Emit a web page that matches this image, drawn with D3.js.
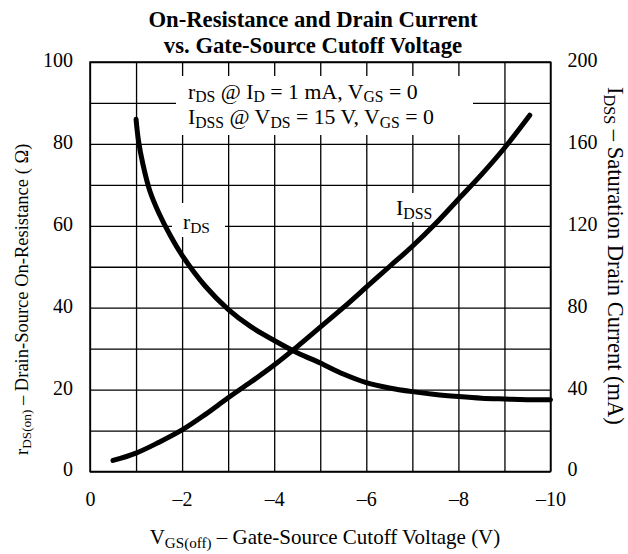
<!DOCTYPE html>
<html>
<head>
<meta charset="utf-8">
<script src="https://cdn.jsdelivr.net/npm/d3@7"></script>
<style>
  html, body { margin: 0; padding: 0; background: #fff; }
  svg { display: block; }
  text { font-family: "Liberation Serif", "Times New Roman", serif; fill: #000; }
</style>
</head>
<body>
<svg id="chart" width="628" height="554"></svg>
<script>
// ---- data ----
const rdsVgs  = [-1, -1.05, -1.15, -1.3, -1.5, -1.75, -2, -2.5, -3, -3.5, -4, -4.5, -5, -5.5, -6, -6.5, -7, -7.5, -8, -8.5, -9, -9.5, -10];
const rdsOhm  = [86, 81, 75, 68.5, 63, 57.5, 52.8, 45.3, 39.6, 35.3, 32, 29, 26.5, 23.8, 21.7, 20.4, 19.5, 18.8, 18.3, 17.9, 17.7, 17.55, 17.5];
const idssVgs = [-0.5, -1, -1.5, -2, -2.5, -3, -3.5, -4, -4.5, -5, -5.5, -6, -6.5, -7, -7.5, -8, -8.5, -9, -9.55];
const idssMa  = [5.4, 9, 14.3, 20.3, 27.8, 36, 43.8, 52, 61, 70.5, 80, 90, 100, 110, 121, 133, 145, 158, 174];
const xTicks      = [0, -2, -4, -6, -8, -10];
const yLeftTicks  = [0, 20, 40, 60, 80, 100];
const yRightTicks = [0, 40, 80, 120, 160, 200];

// ---- layout ----
const svg = d3.select("#chart");
const L = 90, R = 550.5, T = 62, B = 471.5;
const x  = d3.scaleLinear().domain([0, -10]).range([L, R]);
const yL = d3.scaleLinear().domain([0, 100]).range([B, T]);
const yR = d3.scaleLinear().domain([0, 200]).range([B, T]);
const FS = 20;

// grid
const gx = svg.append("g").attr("transform", `translate(0,${B})`)
  .call(d3.axisBottom(x).ticks(10).tickSize(-(B - T)).tickFormat(""));
const gy = svg.append("g").attr("transform", `translate(${L},0)`)
  .call(d3.axisLeft(yL).ticks(10).tickSize(-(R - L)).tickFormat(""));
[gx, gy].forEach(g => {
  g.select(".domain").remove();
  g.selectAll("line").attr("stroke", "#000").attr("stroke-width", 1.3);
});

// white boxes behind in-plot labels
svg.append("rect").attr("x", 176).attr("y", 76).attr("width", 297).attr("height", 59).attr("fill", "#fff");
svg.append("rect").attr("x", 172).attr("y", 203).attr("width", 53).attr("height", 34).attr("fill", "#fff");
svg.append("rect").attr("x", 392).attr("y", 193).attr("width", 44).attr("height", 29).attr("fill", "#fff");

// frame
svg.append("rect").attr("x", L).attr("y", T).attr("width", R - L).attr("height", B - T)
  .attr("fill", "none").attr("stroke", "#000").attr("stroke-width", 1.5);

// curves
const lineR = d3.line().x(d => x(d[0])).y(d => yL(d[1])).curve(d3.curveCatmullRom.alpha(0.5));
const lineI = d3.line().x(d => x(d[0])).y(d => yR(d[1])).curve(d3.curveCatmullRom.alpha(0.5));
svg.append("path").datum(rdsVgs.map((v, i) => [v, rdsOhm[i]])).attr("d", lineR)
  .attr("fill", "none").attr("stroke", "#000").attr("stroke-width", 5).attr("stroke-linecap", "round");
svg.append("path").datum(idssVgs.map((v, i) => [v, idssMa[i]])).attr("d", lineI)
  .attr("fill", "none").attr("stroke", "#000").attr("stroke-width", 5).attr("stroke-linecap", "round");

// axes labels
function styleAxis(g) {
  g.select(".domain").remove();
  g.selectAll("line").remove();
  g.attr("font-family", null).attr("font-size", null);
  g.selectAll("text").attr("font-size", FS).style("font-family", "'Liberation Serif', serif");
}
const fmtX = d => d === 0 ? "0" : "\u2013" + Math.abs(d);
svg.append("g").attr("transform", `translate(0,${B})`)
  .call(d3.axisBottom(x).tickValues(xTicks).tickFormat(fmtX).tickSize(0).tickPadding(20))
  .call(styleAxis);
svg.append("g").attr("transform", `translate(${L},-2)`)
  .call(d3.axisLeft(yL).tickValues(yLeftTicks).tickSize(0).tickPadding(17))
  .call(styleAxis);
svg.append("g").attr("transform", `translate(${R},-2)`)
  .call(d3.axisRight(yR).tickValues(yRightTicks).tickSize(0).tickPadding(17))
  .call(styleAxis);

// rich text with subscripts
function rich(sel, parts, size) {
  const sh = size * 0.17;
  let down = false;
  parts.forEach(p => {
    const sub = Array.isArray(p);
    const t = sub ? p[0] : p;
    const ts = sel.append("tspan").text(t).attr("font-size", sub ? size * 0.72 : size);
    if (sub && !down) { ts.attr("dy", sh); down = true; }
    else if (!sub && down) { ts.attr("dy", -sh); down = false; }
  });
  return sel;
}

// title
svg.append("text").attr("x", 313).attr("y", 27).attr("text-anchor", "middle")
  .attr("font-size", 22.7).attr("font-weight", "bold").text("On-Resistance and Drain Current");
svg.append("text").attr("x", 313).attr("y", 53).attr("text-anchor", "middle")
  .attr("font-size", 22.7).attr("font-weight", "bold").text("vs. Gate-Source Cutoff Voltage");

// legend text
rich(svg.append("text").attr("x", 188).attr("y", 98.5),
  ["r", ["DS"], " @ I", ["D"], " = 1 mA, V", ["GS"], " = 0"], 21.8);
rich(svg.append("text").attr("x", 188).attr("y", 124),
  ["I", ["DSS"], " @ V", ["DS"], " = 15 V, V", ["GS"], " = 0"], 21.8);

// curve labels
rich(svg.append("text").attr("x", 183).attr("y", 229), ["r", ["DS"]], 21.5);
rich(svg.append("text").attr("x", 396).attr("y", 215), ["I", ["DSS"]], 22);

// x axis title
rich(svg.append("text").attr("x", 325).attr("y", 544).attr("text-anchor", "middle"),
  ["V", ["GS(off)"], " \u2013 Gate-Source Cutoff Voltage (V)"], 21);

// left axis title
rich(svg.append("text").attr("transform", "translate(28,455) rotate(-90)").attr("text-anchor", "start"),
  ["r", ["DS(on)"], " \u2013 Drain-Source On-Resistance ( \u03A9)"], 18.5);

// right axis title
rich(svg.append("text").attr("transform", "translate(607.5,87) rotate(90)").attr("text-anchor", "start"),
  ["I", ["DSS"], " \u2013 Saturation Drain Current (mA)"], 22.5);
</script>
</body>
</html>
